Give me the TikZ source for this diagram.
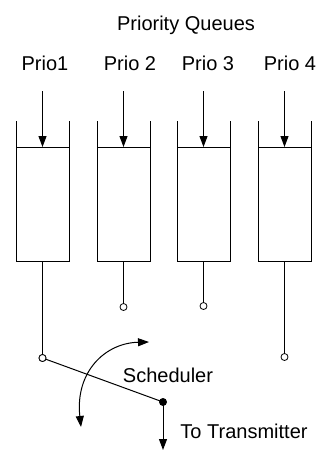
\documentclass[tikz,border=0pt]{standalone}
\usepackage{fontspec}
\setmainfont{Liberation Sans}
\usetikzlibrary{arrows.meta}
\begin{document}
\begin{tikzpicture}[x=1pt,y=-1pt,
  line width=1pt,
  lbl/.style={font=\fontsize{20}{24}\selectfont, inner sep=0pt},
  arr/.style={-{Triangle[length=11pt,width=8pt]}},
  dbl/.style={{Triangle[length=11pt,width=8pt]}-{Triangle[length=11pt,width=8pt]}},
  port/.style={circle, draw, fill=white, line width=0.8pt, inner sep=0pt, minimum size=7pt},
  hub/.style={circle, fill=black, inner sep=0pt, minimum size=8pt}]
\useasboundingbox (0,0) rectangle (320,450);
\node[lbl] (title) at (186,25) {Priority Queues};
\foreach \i/\c/\lx/\txt/\py in {1/42.5/45/Prio1/358,2/123.5/130/Prio 2/307,3/203.5/208/Prio 3/306,4/284.5/290/Prio 4/357}{
  \node[lbl] (p\i) at (\lx,63) {\txt};
  \coordinate (in\i) at (\c,91);
  \coordinate (top\i) at (\c,147);
  \coordinate (bot\i) at (\c,261);
  \draw (\c-26.5,121) -- (\c-26.5,261) -- (\c+26.5,261) -- (\c+26.5,121);
  \draw (\c-26.5,147) -- (\c+26.5,147);
  \draw[arr] (in\i) -- (top\i);
  \node[port] (o\i) at (\c,\py) {};
  \draw (bot\i) -- (o\i);
}
\node[hub] (hub) at (163,402) {};
\draw (o1.center) -- (hub.center);
\node[port] at (o1) {};
\coordinate (tx) at (163,450);
\draw[arr] (hub.center) -- (tx);
\node[lbl] (sched) at (168,375) {Scheduler};
\node[lbl] (totx) at (244,431) {To Transmitter};
\coordinate (ra) at (81,427);
\coordinate (rb) at (149,342);
\draw[dbl] (ra) .. controls (75,372) and (105,343) .. (rb);
\end{tikzpicture}
\end{document}
